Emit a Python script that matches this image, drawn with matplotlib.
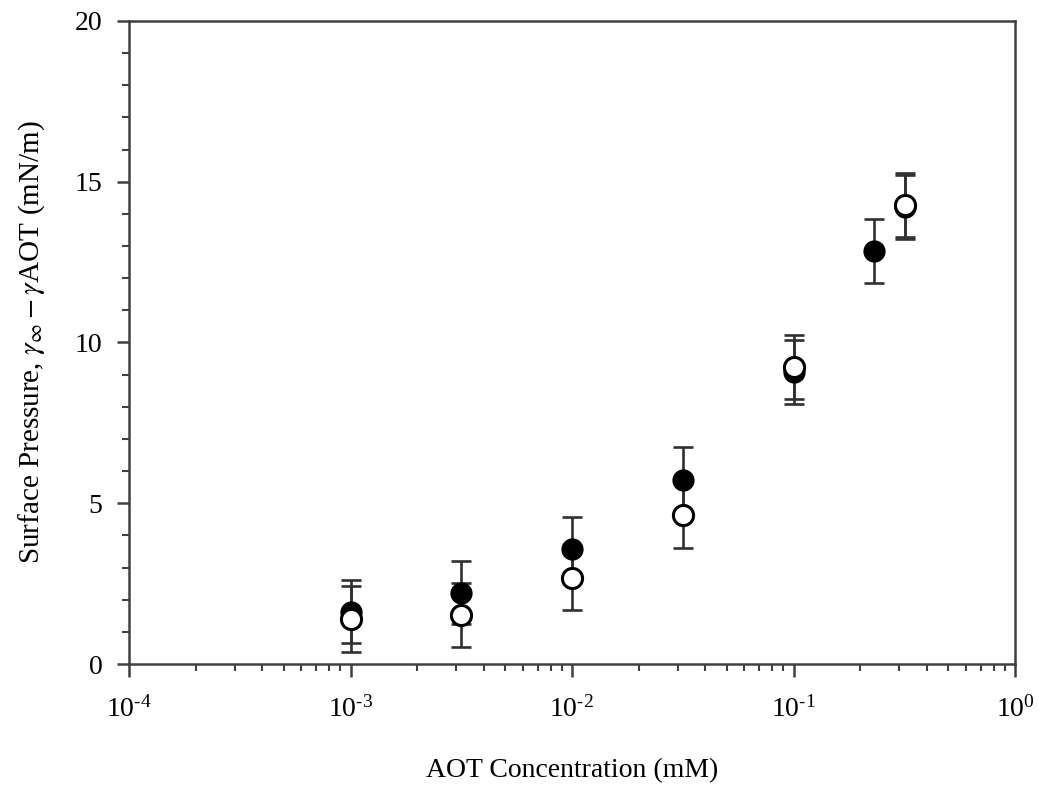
import matplotlib
matplotlib.use("Agg")
import math
import matplotlib.pyplot as plt
from matplotlib.ticker import MultipleLocator, LogLocator, NullFormatter, FuncFormatter

plt.rcParams["font.family"] = ["Liberation Serif", "DejaVu Serif"]
plt.rcParams["mathtext.fontset"] = "stix"

# Surface pressure vs AOT concentration, two measurement sets
filled_conc = [0.001, 0.00316, 0.01, 0.0316, 0.1, 0.23, 0.32]
filled_pressure = [1.63, 2.22, 3.57, 5.71, 9.09, 12.85, 14.21]
filled_err = [0.98, 0.97, 1.00, 1.03, 1.00, 1.00, 1.00]

open_conc = [0.001, 0.00316, 0.01, 0.0316, 0.1, 0.32]
open_pressure = [1.39, 1.52, 2.67, 4.63, 9.23, 14.28]
open_err = [1.03, 1.00, 0.99, 1.01, 0.99, 1.00]

line_col = "#303030"


def decade_label(value, pos):
    exp = int(round(math.log10(value)))
    if exp < 0:
        return r"$\mathdefault{10^{\text{-}%d}}$" % (-exp)
    return r"$\mathdefault{10^{%d}}$" % exp


fig = plt.figure(figsize=(10.39, 7.86), dpi=100)
ax = fig.add_axes([0.1242, 0.1552, 0.8528, 0.8181])

err_kw = dict(fmt="none", ecolor=line_col, elinewidth=1.9, capsize=7, capthick=1.9)
ax.errorbar(filled_conc, filled_pressure, yerr=filled_err, zorder=2, **err_kw)
ax.errorbar(open_conc, open_pressure, yerr=open_err, zorder=2, **err_kw)
ax.plot(filled_conc, filled_pressure, "o", ms=14.5, mfc="black", mec="black", mew=1.5,
        ls="none", zorder=3)
ax.plot(open_conc, open_pressure, "o", ms=14.5, mfc="white", mec="black", mew=2.2,
        ls="none", zorder=4)

ax.set_xscale("log")
ax.set_xlim(1e-4, 1)
ax.set_ylim(0, 20)
ax.xaxis.set_major_locator(LogLocator(base=10, numticks=10))
ax.xaxis.set_major_formatter(FuncFormatter(decade_label))
ax.xaxis.set_minor_locator(LogLocator(base=10, subs=range(2, 10), numticks=20))
ax.xaxis.set_minor_formatter(NullFormatter())
ax.yaxis.set_major_locator(MultipleLocator(5))
ax.yaxis.set_minor_locator(MultipleLocator(1))

for s in ax.spines.values():
    s.set_linewidth(1.8)
    s.set_color("#404040")

ax.tick_params(which="both", direction="out", colors="#404040", top=False, right=False,
               labelsize=20, labelcolor="black")
ax.tick_params(which="major", length=9, width=1.8)
ax.tick_params(which="minor", length=5, width=1.5)
ax.tick_params(axis="x", which="major", pad=14)
ax.tick_params(axis="y", which="major", pad=10)

ax.set_xlabel("AOT Concentration (mM)", fontsize=20, labelpad=26)
ax.set_ylabel(r"Surface Pressure, $\gamma_{\infty} - \gamma$AOT (mN/m)", fontsize=21,
              labelpad=20)

fig.savefig("out.png", dpi=100, facecolor="white")
